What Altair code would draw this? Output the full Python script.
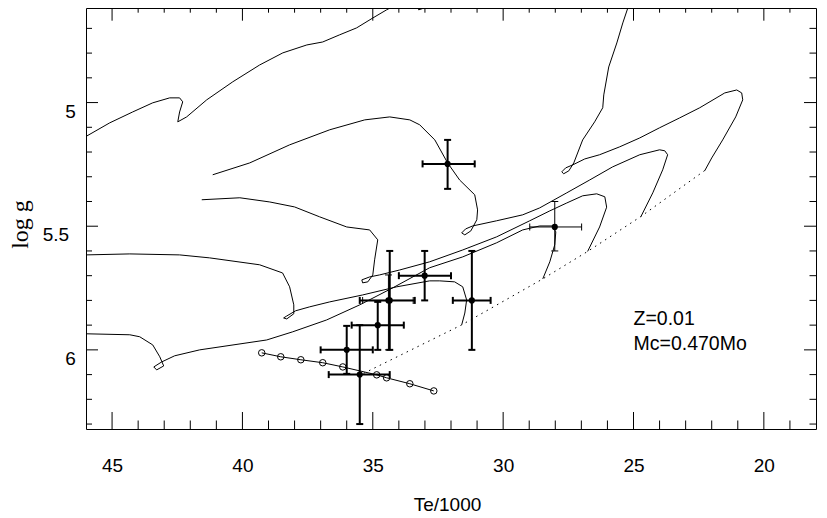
import altair as alt
import pandas as pd

# ---------------- data ----------------
# evolutionary tracks: Te/1000 and log g along each track
tA_x = [32.24, 32.70, 33.01, 33.24, 33.28, 33.12, 32.93, 33.01, 33.39, 33.58, 33.97, 34.47, 35.00, 35.62,
        36.27, 36.92, 37.53, 38.45, 39.34, 40.37, 41.37, 42.14, 42.48, 42.41, 42.29, 42.41, 42.79, 43.44,
        44.21, 45.09, 46.0]
tA_y = [4.524, 4.593, 4.617, 4.625, 4.609, 4.601, 4.609, 4.565, 4.553, 4.573, 4.597, 4.625, 4.658, 4.698,
        4.726, 4.755, 4.767, 4.799, 4.848, 4.916, 4.989, 5.058, 5.078, 5.038, 4.997, 4.981, 4.981, 5.001,
        5.038, 5.082, 5.137]

t1_x = [22.27, 22.00, 21.58, 21.08, 20.81, 20.85, 21.04, 21.50, 22.46, 23.23, 24.00, 24.76, 25.53, 26.30,
        26.87, 27.33, 27.60, 27.75, 27.68, 27.48, 27.29, 26.95, 26.49, 26.18, 26.14, 25.95, 25.64, 25.41,
        25.14, 24.90]
t1_y = [5.276, 5.224, 5.151, 5.058, 4.989, 4.961, 4.949, 4.961, 5.021, 5.062, 5.102, 5.143, 5.179, 5.211,
        5.228, 5.252, 5.264, 5.280, 5.288, 5.276, 5.244, 5.151, 5.078, 5.021, 4.969, 4.856, 4.759, 4.678,
        4.593, 4.520]

t2_x = [24.72, 24.26, 23.88, 23.69, 23.80, 24.00, 24.76, 25.80, 26.68, 27.56, 28.60, 29.25, 30.25, 31.17,
        31.44, 31.59, 31.47, 31.24, 31.01, 30.98, 31.09, 31.67, 32.13, 32.62, 33.20, 33.58, 34.35, 35.31,
        36.65, 38.19, 39.72, 41.14]
t2_y = [5.462, 5.365, 5.272, 5.211, 5.195, 5.191, 5.211, 5.260, 5.313, 5.365, 5.426, 5.454, 5.478, 5.499,
        5.511, 5.527, 5.535, 5.519, 5.474, 5.434, 5.373, 5.313, 5.244, 5.151, 5.090, 5.070, 5.058, 5.070,
        5.110, 5.171, 5.244, 5.292]

t3_x = [26.76, 26.30, 26.03, 26.10, 26.41, 26.95, 27.56, 28.21, 28.98, 30.25, 31.55, 32.82, 33.97, 34.74,
        35.12, 35.42, 35.39, 35.19, 35.00, 34.93, 34.81, 35.12, 36.00, 37.04, 38.00, 38.95, 40.10, 41.56]
t3_y = [5.602, 5.503, 5.423, 5.381, 5.369, 5.377, 5.406, 5.438, 5.478, 5.543, 5.596, 5.644, 5.677, 5.697,
        5.705, 5.717, 5.729, 5.725, 5.697, 5.636, 5.555, 5.515, 5.503, 5.462, 5.422, 5.402, 5.385, 5.393]

t4_x = [28.48, 28.21, 28.02, 27.98, 28.10, 28.60, 29.25, 30.25, 31.55, 32.82, 34.23, 35.50, 36.77, 38.07,
        39.07, 41.64, 42.60, 43.10, 43.40, 43.29, 43.02, 43.17, 43.44, 43.94, 44.32, 46.0]
t4_y = [5.713, 5.644, 5.575, 5.523, 5.499, 5.499, 5.515, 5.567, 5.624, 5.668, 5.749, 5.818, 5.879, 5.927,
        5.960, 6.000, 6.024, 6.049, 6.069, 6.081, 6.065, 6.028, 5.980, 5.947, 5.939, 5.935]

t5_x = [31.59, 31.47, 31.40, 31.55, 31.86, 32.43, 32.82, 34.08, 35.39, 36.65, 37.42, 37.96, 38.30, 38.42,
        38.30, 38.03, 38.03, 38.19, 38.46, 39.34, 41.26, 42.41, 44.32, 46.0]
t5_y = [5.899, 5.851, 5.798, 5.745, 5.725, 5.721, 5.721, 5.745, 5.778, 5.806, 5.826, 5.842, 5.863, 5.871,
        5.875, 5.854, 5.818, 5.745, 5.689, 5.656, 5.628, 5.616, 5.612, 5.616]

# dotted line joining the track starts
zahb_x = [22.27, 24.72, 26.76, 28.48, 31.59, 35.39]
zahb_y = [5.275, 5.461, 5.602, 5.713, 5.899, 6.097]

# open-circle sequence
circ_x = [39.26, 38.53, 37.76, 36.92, 36.15, 34.85, 34.47, 33.58, 32.66]
circ_y = [6.012, 6.028, 6.040, 6.052, 6.069, 6.101, 6.113, 6.137, 6.166]

# observed stars with error bars
pt_x   = [32.13, 28.02, 33.01, 34.35, 34.40, 34.81, 36.00, 35.50, 31.20]
pt_y   = [5.248, 5.503, 5.700, 5.800, 5.800, 5.900, 6.000, 6.100, 5.800]
pt_xlo = [33.09, 28.98, 34.00, 35.50, 35.39, 35.81, 37.00, 36.69, 31.93]
pt_xhi = [31.09, 26.99, 32.00, 33.39, 33.45, 33.81, 35.00, 34.35, 30.48]
pt_ylo = [5.151, 5.400, 5.600, 5.600, 5.697, 5.806, 5.903, 5.900, 5.600]
pt_yhi = [5.349, 5.600, 5.800, 6.000, 6.000, 6.000, 6.097, 6.300, 6.000]
pt_w   = [2, 1, 2, 2, 1, 2, 2, 2, 2]

# annotation
ann_text = ["Z=0.01", "Mc=0.470Mo"]
ann_x = [25.0, 25.0]
ann_y = [5.9, 6.0]

# axes
x_labels = [45, 40, 35, 30, 25, 20]
x_minor = [19, 21, 22, 23, 24, 26, 27, 28, 29, 31, 32, 33, 34, 36, 37, 38, 39, 41, 42, 43, 44]
y_labels = [5, 5.5, 6]
y_minor = [4.7, 4.8, 4.9, 5.1, 5.2, 5.3, 5.4, 5.6, 5.7, 5.8, 5.9, 6.1, 6.2, 6.3]

# ---------------- tables ----------------
tracks = [(tA_x, tA_y), (t1_x, t1_y), (t2_x, t2_y), (t3_x, t3_y), (t4_x, t4_y), (t5_x, t5_y)]
rows = []
for tid, (xx, yy) in enumerate(tracks):
    for i, (a, b) in enumerate(zip(xx, yy)):
        rows.append({"track": tid, "i": i, "T": a, "g": b})
tracks_df = pd.DataFrame(rows)
zahb_df = pd.DataFrame({"T": zahb_x, "g": zahb_y, "i": range(len(zahb_x))})
circ_df = pd.DataFrame({"T": circ_x, "g": circ_y, "i": range(len(circ_x))})
pts_df = pd.DataFrame({"x": pt_x, "y": pt_y, "xlo": pt_xlo, "xhi": pt_xhi,
                       "ylo": pt_ylo, "yhi": pt_yhi, "w": pt_w})
caps = []
for k in range(len(pt_x)):
    caps.append({"cx": pt_xlo[k], "cy": pt_y[k], "kind": "h", "w": pt_w[k]})
    caps.append({"cx": pt_xhi[k], "cy": pt_y[k], "kind": "h", "w": pt_w[k]})
    caps.append({"cx": pt_x[k], "cy": pt_ylo[k], "kind": "v", "w": pt_w[k]})
    caps.append({"cx": pt_x[k], "cy": pt_yhi[k], "kind": "v", "w": pt_w[k]})
caps_df = pd.DataFrame(caps)
ann_df = pd.DataFrame({"t": ann_text, "x": ann_x, "y": ann_y})

# ---------------- chart ----------------
W, H = 730, 421
FONT = "Liberation Sans"
xs = alt.Scale(domain=[18, 46], reverse=True, nice=False, zero=False)
ys = alt.Scale(domain=[4.6176, 6.32], reverse=True, nice=False, zero=False)

xaxis = alt.Axis(values=x_labels, format="d", ticks=False, tickSize=0, domain=False, grid=False,
                 labelFont=FONT, labelFontSize=19, labelColor="black", labelPadding=42,
                 labelBaseline="alphabetic", labelFlush=False, labelOverlap=False,
                 title="Te/1000", titleFont=FONT, titleFontSize=19, titleFontWeight="normal",
                 titleColor="black", titleX=361, titleY=81, titleBaseline="alphabetic",
                 titleAlign="center")
yaxis = alt.Axis(values=y_labels, format="~g", ticks=False, tickSize=0, domain=False, grid=False,
                 labelFont=FONT, labelFontSize=19, labelColor="black",
                 labelPadding={"condition": {"test": "datum.value == 5.5", "value": 17.3}, "value": 10.6},
                 labelAlign="right", labelBaseline="alphabetic", labelOffset=14.5,
                 labelFlush=False, labelOverlap=False,
                 title="log g", titleFont="Liberation Serif", titleFontSize=24, titleFontWeight="normal",
                 titleColor="black", titleAngle=270, titleX=-58.5, titleY=216,
                 titleBaseline="alphabetic", titleAlign="center")


def X(f):
    return alt.X(f, type="quantitative", scale=xs, axis=xaxis)


def Y(f):
    return alt.Y(f, type="quantitative", scale=ys, axis=yaxis)


track_layer = alt.Chart(tracks_df).mark_line(color="black", strokeWidth=1, clip=True).encode(
    x=X("T"), y=Y("g"), detail="track:N", order="i:Q")
zahb_layer = alt.Chart(zahb_df).mark_line(color="black", strokeWidth=1, strokeDash=[1.5, 4.5], clip=True).encode(
    x=X("T"), y=Y("g"), order="i:Q")
circ_line = alt.Chart(circ_df).mark_line(color="black", strokeWidth=1).encode(
    x=X("T"), y=Y("g"), order="i:Q")
circ_pts = alt.Chart(circ_df).mark_point(shape="circle", filled=False, size=42, color="black",
                                         strokeWidth=1, opacity=1).encode(x=X("T"), y=Y("g"))

hbar = alt.Chart(pts_df).mark_rule(color="black").encode(
    x=X("xlo"), x2="xhi", y=Y("y"), strokeWidth=alt.StrokeWidth("w:Q", scale=None))
vbar = alt.Chart(pts_df).mark_rule(color="black").encode(
    x=X("x"), y=Y("ylo"), y2="yhi", strokeWidth=alt.StrokeWidth("w:Q", scale=None))


def cap_layer(kind, w):
    orient = "vertical" if kind == "h" else "horizontal"
    return alt.Chart(caps_df).transform_filter(
        f"datum.kind == '{kind}' && datum.w == {w}"
    ).mark_tick(orient=orient, size=7, thickness=w, color="black", opacity=1).encode(
        x=X("cx"), y=Y("cy"))


stars = alt.Chart(pts_df).mark_circle(size=38, color="black", opacity=1).encode(x=X("x"), y=Y("y"))

ann = alt.Chart(ann_df).mark_text(align="left", baseline="alphabetic", font=FONT, fontSize=19.5,
                                  color="black").encode(x=X("x"), y=Y("y"), text="t:N")

xmaj_df = pd.DataFrame({"v": x_labels})
xmin_df = pd.DataFrame({"v": x_minor})
ymaj_df = pd.DataFrame({"v": y_labels})
ymin_df = pd.DataFrame({"v": y_minor})


def xtick(df, y0, y1):
    return alt.Chart(df).mark_rule(color="black", strokeWidth=1).encode(
        x=X("v"), y=alt.value(y0), y2=alt.value(y1))


def ytick(df, x0, x1):
    return alt.Chart(df).mark_rule(color="black", strokeWidth=1).encode(
        y=Y("v"), x=alt.value(x0), x2=alt.value(x1))


ticks = [
    xtick(xmaj_df, H, H - 17), xtick(xmin_df, H, H - 8.5),
    xtick(xmaj_df, 0, 12.7), xtick(xmin_df, 0, 4.7),
    ytick(ymaj_df, 0, 12), ytick(ymin_df, 0, 6),
    ytick(ymaj_df, W, W - 12), ytick(ymin_df, W, W - 6.5),
]

chart = alt.layer(
    track_layer, zahb_layer, circ_line, circ_pts, hbar, vbar,
    cap_layer("h", 2), cap_layer("h", 1), cap_layer("v", 2), cap_layer("v", 1),
    stars, ann, *ticks
).properties(
    width=W, height=H,
    padding={"left": 78, "top": 0, "right": 3, "bottom": 84},
    autosize=alt.AutoSizeParams(type="none"),
    background="white",
).configure_view(stroke="black", strokeWidth=1)

chart.save("out.html", embed_options={"renderer": "svg", "actions": False})
